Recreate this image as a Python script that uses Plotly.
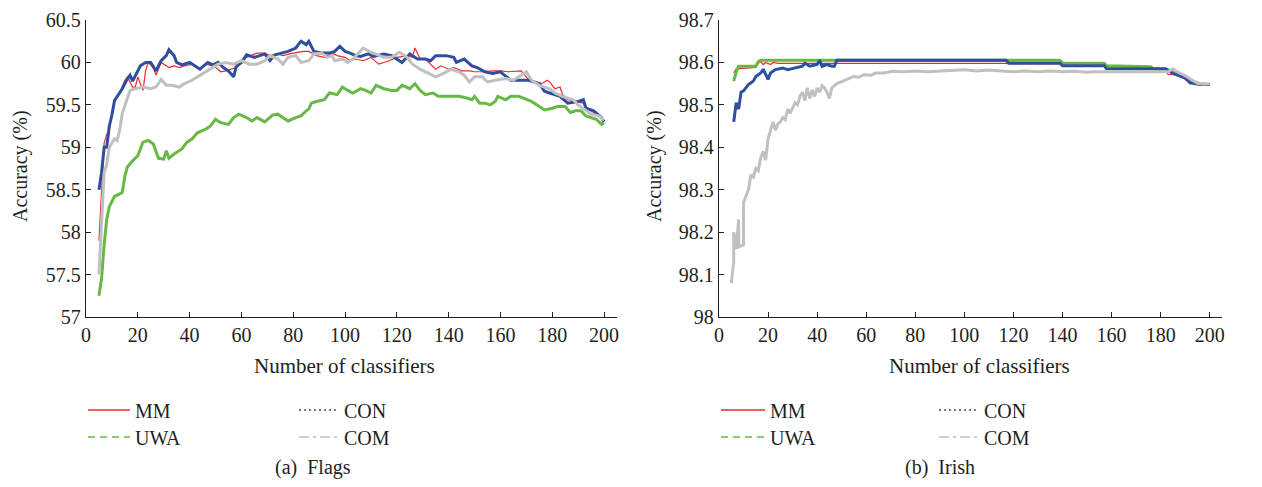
import plotly.graph_objects as go

# ---------------- data ----------------
SERIES = ["MM", "UWA", "CON", "COM"]
COLORS = {"MM": "#ee2a2e", "UWA": "#68b846", "CON": "#2e4f9f", "COM": "#c0c0c0"}

X_TICKS = [0, 20, 40, 60, 80, 100, 120, 140, 160, 180, 200]
FLAGS_Y_TICKS = [57, 57.5, 58, 58.5, 59, 59.5, 60, 60.5]
FLAGS_Y_LABELS = ["57", "57.5", "58", "58.5", "59", "59.5", "60", "60.5"]
IRISH_Y_TICKS = [98, 98.1, 98.2, 98.3, 98.4, 98.5, 98.6, 98.7]
IRISH_Y_LABELS = ["98", "98.1", "98.2", "98.3", "98.4", "98.5", "98.6", "98.7"]

# Flags: (number of classifiers, accuracy %)
FLAGS_MM = [(5,57.9),(6,58.5),(7,59.05),(8,59.15),(9,59.2),(10,59.41),(11,59.55),(13,59.64),(15,59.79),(16,59.83),
            (18,59.71),(19,59.71),(20,59.83),(22,59.67),(23,59.9),(24,60.0),(26,59.94),(27,59.85),(29,60.0),(32,59.94),
            (34,59.96),(36,59.94),(38,59.96),(41,59.98),(44,59.92),(46,59.98),(49,59.96),(51,59.92),(52,59.89),(54,59.9),
            (56,59.92),(58,59.94),(62,60.06),(66,60.11),(69,60.11),(71,60.08),(74,60.1),(76,60.08),(80,60.11),(84,60.13),
            (86,60.13),(89,60.08),(92,60.06),(95,60.11),(97,60.08),(100,60.06),(102,60.02),(104,60.04),(107,60.02),(110,60.06),
            (113,59.98),(117,60.02),(120,60.06),(124,60.08),(126,60.06),(127,60.17),(129,60.04),(131,60.04),(135,59.92),(137,59.96),
            (140,59.92),(142,59.94),(145,59.9),(148,59.9),(150,59.89),(153,59.89),(157,59.9),(160,59.9),(163,59.89),(166,59.9),
            (168,59.9),(171,59.79),(173,59.77),(176,59.75),(178,59.79),(179,59.77),(181,59.69),(183,59.71),(184,59.62),(186,59.56),
            (189,59.54),(192,59.52),(193,59.48),(195,59.43),(198,59.37),(200,59.31)]

FLAGS_UWA = [(5,57.25),(6,57.45),(7,57.85),(8,58.15),(9,58.3),(10,58.37),(11,58.42),(13,58.45),(14,58.47),(15,58.66),
             (16,58.77),(18,58.84),(20,58.9),(22,59.06),(24,59.08),(26,59.04),(27,58.96),(28,58.87),(30,58.86),(31,58.96),
             (32,58.87),(34,58.92),(37,58.98),(39,59.06),(41,59.1),(43,59.17),(46,59.21),(48,59.25),(50,59.33),(52,59.29),
             (55,59.27),(57,59.35),(59,59.39),(62,59.35),(64,59.31),(66,59.35),(69,59.3),(72,59.38),(74,59.39),(76,59.35),
             (78,59.31),(81,59.35),(83,59.37),(85,59.43),(86,59.45),(87,59.52),(89,59.54),(92,59.56),(94,59.64),(97,59.62),
             (99,59.71),(101,59.67),(103,59.64),(106,59.69),(108,59.67),(110,59.64),(112,59.73),(115,59.69),(118,59.67),(120,59.67),
             (122,59.73),(125,59.69),(127,59.75),(129,59.67),(131,59.62),(134,59.64),(136,59.6),(140,59.6),(144,59.6),(147,59.58),
             (149,59.56),(150,59.6),(152,59.52),(154,59.52),(156,59.5),(158,59.54),(159,59.6),(162,59.56),(164,59.6),(167,59.6),
             (170,59.56),(172,59.54),(175,59.48),(177,59.44),(180,59.46),(182,59.48),(185,59.48),(187,59.41),(189,59.43),(191,59.43),
             (193,59.37),(195,59.35),(197,59.33),(199,59.27),(200,59.29)]

FLAGS_CON = [(5,58.5),(6,58.7),(7,59.0),(8,59.0),(9,59.25),(10,59.38),(11,59.55),(12,59.6),(14,59.69),(16,59.81),
             (17,59.85),(18,59.78),(20,59.9),(21,59.96),(23,60.0),(25,60.0),(27,59.9),(29,60.02),(31,60.08),(32,60.15),
             (34,60.08),(35,60.0),(37,59.97),(40,60.0),(42,59.96),(44,59.92),(47,60.0),(49,59.97),(51,60.0),(53,59.94),
             (55,59.9),(57,59.83),(58,59.95),(60,60.0),(62,60.09),(65,60.06),(69,60.1),(71,60.02),(73,60.09),(76,60.11),
             (78,60.13),(81,60.17),(83,60.25),(85,60.21),(86,60.25),(88,60.13),(91,60.11),(94,60.11),(96,60.13),(98,60.19),
             (100,60.13),(102,60.11),(104,60.08),(106,60.07),(109,60.1),(111,60.07),(115,60.1),(118,60.08),(122,60.0),(125,60.1),
             (128,60.04),(131,60.04),(133,60.02),(135,60.08),(139,60.08),(142,60.06),(143,60.0),(146,60.04),(149,59.96),(151,59.94),
             (154,59.89),(157,59.87),(160,59.89),(164,59.79),(168,59.79),(171,59.79),(175,59.75),(177,59.66),(179,59.64),(183,59.6),
             (186,59.52),(190,59.54),(192,59.56),(193,59.46),(196,59.43),(199,59.35),(200,59.3)]

FLAGS_COM = [(5,57.5),(6,58.15),(7,58.7),(8,58.8),(9,59.0),(10,59.05),(11,59.1),(12,59.08),(13,59.2),(14,59.4),
             (16,59.57),(17,59.67),(19,59.69),(22,59.71),(25,59.69),(27,59.71),(29,59.8),(31,59.73),(33,59.73),(36,59.71),
             (38,59.75),(41,59.79),(43,59.83),(45,59.87),(47,59.9),(49,59.94),(51,59.98),(54,60.0),(57,59.98),(60,60.02),
             (63,59.98),(66,59.98),(69,60.02),(71,60.08),(74,60.04),(76,59.98),(78,60.06),(81,60.08),(83,60.0),(86,60.02),
             (88,60.1),(91,60.11),(93,60.06),(95,60.08),(96,60.02),(99,60.04),(101,60.0),(103,60.04),(105,60.1),(107,60.17),
             (110,60.12),(113,60.08),(115,60.06),(118,60.06),(121,60.12),(124,60.06),(126,59.98),(129,59.92),(132,59.87),(135,59.83),
             (138,59.87),(141,59.92),(144,59.89),(146,59.85),(148,59.77),(150,59.83),(153,59.83),(155,59.77),(158,59.79),(162,59.81),
             (165,59.79),(167,59.83),(170,59.89),(172,59.79),(175,59.73),(179,59.69),(181,59.64),(184,59.6),(188,59.56),(190,59.5),
             (193,59.44),(195,59.39),(198,59.37),(200,59.32)]

# Irish
IRISH_MM = [(6,98.575),(7,98.585),(15,98.588),(16,98.598),(17,98.602),(18,98.595),(19,98.6),(21,98.595),(22,98.6),(24,98.598),
            (117,98.598),(118,98.597),(139,98.597),(140,98.592),(157,98.592),(158,98.585),(177,98.585),(182,98.584),(183,98.572),
            (187,98.571),(190,98.565),(192,98.556),(194,98.55),(200,98.547)]

IRISH_UWA = [(6,98.556),(7,98.577),(8,98.591),(15,98.591),(16,98.602),(17,98.605),(139,98.605),(140,98.598),(157,98.598),
             (158,98.592),(176,98.59),(177,98.585),(183,98.583),(185,98.577),(187,98.571),(190,98.563),(193,98.556),(196,98.55),
             (200,98.548)]

IRISH_CON = [(6,98.46),(7,98.505),(8,98.49),(9,98.53),(10,98.533),(12,98.548),(14,98.556),(15,98.567),(17,98.575),(18,98.584),
             (20,98.56),(21,98.575),(23,98.583),(26,98.587),(28,98.583),(31,98.587),(34,98.591),(35,98.598),(37,98.591),(40,98.595),
             (41,98.605),(42,98.591),(44,98.595),(46,98.591),(47,98.591),(48,98.605),(117,98.605),(118,98.598),(139,98.598),
             (140,98.592),(157,98.592),(158,98.585),(182,98.585),(185,98.574),(188,98.568),(190,98.563),(192,98.552),(196,98.548),
             (200,98.548)]

IRISH_COM = [(5,98.08),(6,98.13),(6,98.2),(7,98.16),(8,98.23),(8,98.165),(10,98.17),(10,98.27),(12,98.3),(13,98.335),
             (14,98.33),(15,98.35),(16,98.345),(17,98.375),(18,98.39),(19,98.37),(20,98.42),(21,98.44),(22,98.46),(23,98.44),
             (24,98.455),(25,98.46),(26,98.47),(27,98.465),(28,98.49),(29,98.48),(31,98.505),(32,98.5),(33,98.52),(34,98.53),
             (35,98.51),(36,98.54),(37,98.515),(38,98.535),(39,98.52),(40,98.54),(41,98.53),(42,98.545),(43,98.54),(44,98.53),
             (45,98.515),(46,98.54),(48,98.55),(50,98.555),(52,98.56),(55,98.567),(57,98.565),(59,98.571),(62,98.57),(64,98.575),
             (67,98.575),(71,98.579),(75,98.578),(80,98.58),(85,98.578),(90,98.58),(95,98.582),(100,98.583),(105,98.58),(110,98.582),
             (115,98.58),(120,98.578),(125,98.58),(130,98.578),(135,98.58),(140,98.578),(145,98.579),(150,98.577),(153,98.578),
             (183,98.578),(185,98.585),(187,98.577),(189,98.572),(191,98.565),(193,98.558),(195,98.551),(197,98.549),(200,98.549)]

FLAGS = {"MM": FLAGS_MM, "UWA": FLAGS_UWA, "CON": FLAGS_CON, "COM": FLAGS_COM}
IRISH = {"MM": IRISH_MM, "UWA": IRISH_UWA, "CON": IRISH_CON, "COM": IRISH_COM}

# ---------------- styling ----------------
FONT = "Liberation Serif"
TXT = "#231f20"
W, H = 1262, 487
OFF = 8  # page body margin


def fx(p):  # screen px -> paper fraction
    return (p - OFF) / W


def fy(p):
    return 1 - (p - OFF) / H


DATA_WIDTH = {"MM": 1.2, "UWA": 3, "CON": 3, "COM": 3}
LEG_DASH = {"MM": "solid", "UWA": "7px,5px", "CON": "2px,3px", "COM": "10px,4px,3px,4px"}

fig = go.Figure()

panels = [("x", "y", FLAGS), ("x2", "y2", IRISH)]
for xa, ya, data in panels:
    for name in SERIES:
        pts = data[name]
        fig.add_trace(go.Scatter(
            x=[p[0] for p in pts], y=[p[1] for p in pts], mode="lines",
            line=dict(color=COLORS[name], width=DATA_WIDTH[name]),
            xaxis=xa, yaxis=ya, showlegend=False, hoverinfo="skip"))

# legend entries (one legend per entry so the 2x2 grid can be placed exactly)
# (legend x in screen px, y in screen px, item width)
leg_pos = {
    ("x", "MM"): (83, 410, 42), ("x", "UWA"): (83, 437, 42),
    ("x", "CON"): (294, 410, 40), ("x", "COM"): (294, 437, 40),
    ("x2", "MM"): (716, 410, 44), ("x2", "UWA"): (716, 437, 44),
    ("x2", "CON"): (934, 410, 40), ("x2", "COM"): (934, 437, 40),
}
legend_layouts = {}
k = 0
for xa, ya, data in panels:
    for name in SERIES:
        k += 1
        lname = "legend" if k == 1 else f"legend{k}"
        fig.add_trace(go.Scatter(
            x=[None], y=[None], mode="lines", name=name,
            line=dict(color=COLORS[name], width=1.3, dash=LEG_DASH[name]),
            xaxis=xa, yaxis=ya, legend=lname))
        px, py, iw = leg_pos[(xa, name)]
        legend_layouts[lname] = dict(
            x=fx(px), y=fy(py), xanchor="left", yanchor="middle", itemwidth=iw,
            bgcolor="rgba(0,0,0,0)", borderwidth=0,
            font=dict(family=FONT, size=20, color=TXT))

axis_common = dict(showline=True, linecolor="#231f20", linewidth=1.3, ticks="inside",
                   ticklen=5, tickwidth=1.3, tickcolor="#231f20", showgrid=False, zeroline=False,
                   tickfont=dict(family=FONT, size=20, color=TXT), mirror=False, automargin=False,
                   ticklabeloverflow="allow")

ydom = [fy(317), fy(20)]
layout = dict(
    template="none",
    width=W, height=H, margin=dict(l=0, r=0, t=0, b=0, pad=0), autosize=False,
    paper_bgcolor="white", plot_bgcolor="white", showlegend=True,
    xaxis=dict(domain=[fx(86), fx(617)], range=[0, 205], tickvals=X_TICKS, anchor="y", **axis_common),
    yaxis=dict(domain=ydom, range=[57, 60.5], tickvals=FLAGS_Y_TICKS, ticktext=FLAGS_Y_LABELS,
               anchor="x", **axis_common),
    xaxis2=dict(domain=[fx(719), fx(1222)], range=[0, 205], tickvals=X_TICKS, anchor="y2", **axis_common),
    yaxis2=dict(domain=ydom, range=[98, 98.7], tickvals=IRISH_Y_TICKS, ticktext=IRISH_Y_LABELS,
                anchor="x2", **axis_common),
)
layout.update(legend_layouts)
fig.update_layout(**layout)

annotations = [
    dict(text="Number of classifiers", x=fx(344), y=fy(366), size=21),
    dict(text="Number of classifiers", x=fx(979), y=fy(366), size=21),
    dict(text="Accuracy (%)", x=fx(20), y=fy(166), textangle=-90, size=20),
    dict(text="Accuracy (%)", x=fx(654), y=fy(166), textangle=-90, size=20),
    dict(text="(a)\u00a0 Flags", x=fx(313), y=fy(467), size=20),
    dict(text="(b)\u00a0 Irish", x=fx(940), y=fy(467), size=20),
]
for a in annotations:
    size = a.pop("size")
    fig.add_annotation(xref="paper", yref="paper", xanchor="center", yanchor="middle",
                       showarrow=False, font=dict(family=FONT, size=size, color=TXT), **a)

fig.write_html("out.html")
